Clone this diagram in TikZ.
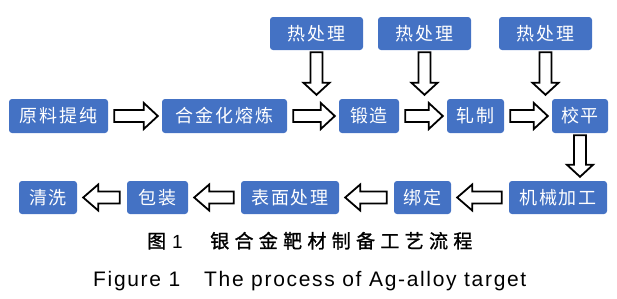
\documentclass[tikz,border=0pt]{standalone}
\usepackage{fontspec}
\usetikzlibrary{calc}
\newfontfamily\boxfont[LetterSpace=10]{Noto Sans CJK SC}
\newfontfamily\capcjk[LetterSpace=28,FakeBold=1.2]{Noto Sans CJK SC}
\newfontfamily\capen[LetterSpace=8]{Liberation Sans}
\definecolor{boxblue}{HTML}{4472C4}
\tikzset{
  procbox/.style={fill=boxblue, draw=none, rounded corners=3pt, text=white,
    font=\boxfont\fontsize{18}{20}\selectfont, inner sep=0pt, minimum height=33pt},
  blockarrow/.style={draw=black, fill=white, line width=1.8pt, line join=miter},
}
% right-pointing block arrow
\newcommand{\rarr}[2]{%
  \draw[blockarrow] let \p1=($(#1.east)+(6pt,0)$), \p2=($(#2.west)+(-4pt,0)$) in
    (\x1,\y1+6pt) -- (\x2-14pt,\y1+6pt) -- (\x2-14pt,\y1+13pt) -- (\x2,\y1)
    -- (\x2-14pt,\y1-13pt) -- (\x2-14pt,\y1-6pt) -- (\x1,\y1-6pt) -- cycle;}
% left-pointing block arrow
\newcommand{\larr}[2]{%
  \draw[blockarrow] let \p1=($(#1.west)+(-7pt,0)$), \p2=($(#2.east)+(6pt,0)$) in
    (\x1,\y1+6pt) -- (\x2+15pt,\y1+6pt) -- (\x2+15pt,\y1+13pt) -- (\x2,\y1)
    -- (\x2+15pt,\y1-13pt) -- (\x2+15pt,\y1-6pt) -- (\x1,\y1-6pt) -- cycle;}
% down-pointing block arrow
\newcommand{\darr}[2]{%
  \draw[blockarrow] let \p1=($(#1.south)+(0,-2pt)$), \p2=($(#2.north)+(0,4pt)$) in
    (\x1-6pt,\y1) -- (\x1-6pt,\y2+12pt) -- (\x1-13pt,\y2+12pt) -- (\x1,\y2)
    -- (\x1+13pt,\y2+12pt) -- (\x1+6pt,\y2+12pt) -- (\x1+6pt,\y1) -- cycle;}
\begin{document}
\begin{tikzpicture}[x=1pt,y=-1pt]
\useasboundingbox (0,0) rectangle (617,298);
% top row
\node[procbox, minimum width=93pt] (h1) at (316.5,33.5) {热处理};
\node[procbox, minimum width=93pt] (h2) at (424.5,33.5) {热处理};
\node[procbox, minimum width=93pt] (h3) at (545.5,33.5) {热处理};
% middle row
\node[procbox, minimum width=99pt, minimum height=34pt] (m1) at (58.5,116) {原料提纯};
\node[procbox, minimum width=125pt, minimum height=34pt] (m2) at (224.5,116) {合金化熔炼};
\node[procbox, minimum width=60pt, minimum height=34pt] (m3) at (369,116) {锻造};
\node[procbox, minimum width=57pt, minimum height=34pt] (m4) at (475.5,116) {轧制};
\node[procbox, minimum width=56pt, minimum height=34pt] (m5) at (580,116) {校平};
% bottom row
\node[procbox, minimum width=58pt] (b1) at (48,197.5) {清洗};
\node[procbox, minimum width=61pt] (b2) at (157.5,197.5) {包装};
\node[procbox, minimum width=98pt] (b3) at (290,197.5) {表面处理};
\node[procbox, minimum width=57pt] (b4) at (422.5,197.5) {绑定};
\node[procbox, minimum width=98pt] (b5) at (558,197.5) {机械加工};
% arrows
\rarr{m1}{m2}
\rarr{m2}{m3}
\rarr{m3}{m4}
\rarr{m4}{m5}
\darr{h1}{m1}
\darr{h2}{m1}
\darr{h3}{m1}
\darr{m5}{b5}
\larr{b5}{b4}
\larr{b4}{b3}
\larr{b3}{b2}
\larr{b2}{b1}
% captions
\node[anchor=base west, inner sep=0pt, font=\capcjk\fontsize{19}{21}\selectfont] (c1) at (147,248) {图};
\node[anchor=base west, inner sep=0pt, font=\capen\fontsize{19}{21}\selectfont] (c1n) at (172,248) {1};
\node[anchor=base west, inner sep=0pt, font=\capcjk\fontsize{19}{21}\selectfont] (c2) at (210,248) {银合金靶材制备工艺流程};
\node[anchor=base west, inner sep=0pt, font=\capen\fontsize{21}{24}\selectfont] (e1) at (93,286) {Figure 1};
\node[anchor=base west, inner sep=0pt, font=\capen\fontsize{21}{24}\selectfont] (e2) at (204,286) {The process of Ag-alloy target};
\end{tikzpicture}
\end{document}
